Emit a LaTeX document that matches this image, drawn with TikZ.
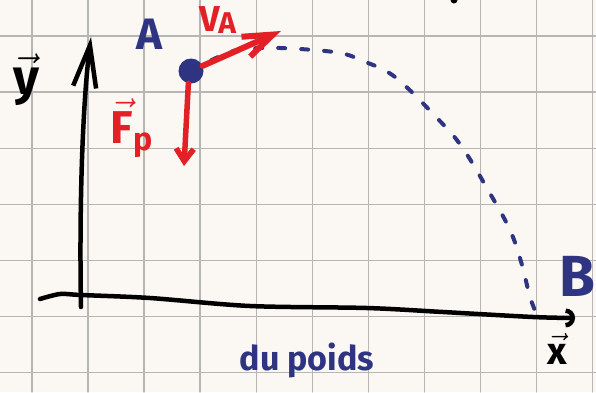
\RequirePackage{fix-cm}
\documentclass[tikz,border=0pt]{standalone}
\usepackage{fontspec}
\setmainfont{Fira Sans}
\usetikzlibrary{arrows.meta}
\definecolor{encre}{RGB}{46,52,130}
\definecolor{rouge}{RGB}{226,32,38}
\definecolor{papier}{RGB}{251,248,243}
\definecolor{grille}{RGB}{182,182,182}

\begin{document}
\begin{tikzpicture}[x=1pt,y=-1pt,line cap=round,line join=round]
\fill[papier] (0,0) rectangle (596,392);
\useasboundingbox (0,0) rectangle (596,392);
\foreach \gx in {32,88.05,...,596} \draw[grille,line width=1.4pt] (\gx,0)--(\gx,392);
\foreach \gy in {36,92.1,...,392} \draw[grille,line width=1.4pt] (0,\gy)--(596,\gy);
\coordinate (ybas) at (81,307);
\coordinate (yhaut) at (91,37);
\coordinate (xgauche) at (40,299);
\coordinate (xdroite) at (575,318);
\coordinate (O) at (81,295);
\coordinate (B) at (539,320);
\draw[line width=4.5pt,-{Straight Barb[scale length=4,scale width=1.1]}] (ybas) .. controls (79,200) and (83,100) .. (yhaut);
\draw[line width=4.5pt,-{Arc Barb[scale=0.9]}] plot[smooth] coordinates {(xgauche) (60,294) (O) (150,298) (250,306) (367,308) (443,312) (533,317) (xdroite)};
\fill (454,0) circle (3.5);
\node[circle,fill=encre,minimum size=25pt,inner sep=0] (A) at (191,71) {};
\draw[encre,line width=4pt,dash pattern=on 7pt off 16pt] plot[smooth,tension=0.6] coordinates {(A) (230,52) (262,48) (300,49) (340,53) (363,61) (395,77) (438,119) (462,147) (488,190) (510,230) (522,265) (530,297) (B)};
\coordinate (vtip) at (281,31);
\coordinate (ftip) at (184,166);
\draw[rouge,line width=6pt,-{Straight Barb[scale length=2.2,scale width=0.8]}] (A) -- (vtip);
\draw[rouge,line width=5.5pt,-{Straight Barb[scale width=0.7]}] (A.258) -- (ftip);
\node[encre,font=\bfseries\fontsize{44}{44}\selectfont] (lblA) at (149,34) {A};
\node[encre,font=\bfseries\fontsize{58}{58}\selectfont] (lblB) at (577,276) {B};
\node[rouge,font=\bfseries\fontsize{36}{36}\selectfont] (lblV) at (218,20) {V\kern-2pt\raisebox{-2pt}{\fontsize{30}{30}\selectfont A}};
\node[rouge,font=\fontsize{46}{46}\selectfont] (lblF) at (132,128) {$\vec{\mathbf{F}}_{\mathbf{p}}$};
\node[font=\fontsize{50}{50}\selectfont] (lbly) at (26,80) {$\vec{\mathbf{y}}$};
\node[font=\fontsize{38}{38}\selectfont] (lblx) at (557,349) {$\vec{\mathbf{x}}$};
\node[encre,font=\bfseries\fontsize{34}{34}\selectfont] (poids) at (307,360) {du poids};
\end{tikzpicture}
\end{document}
